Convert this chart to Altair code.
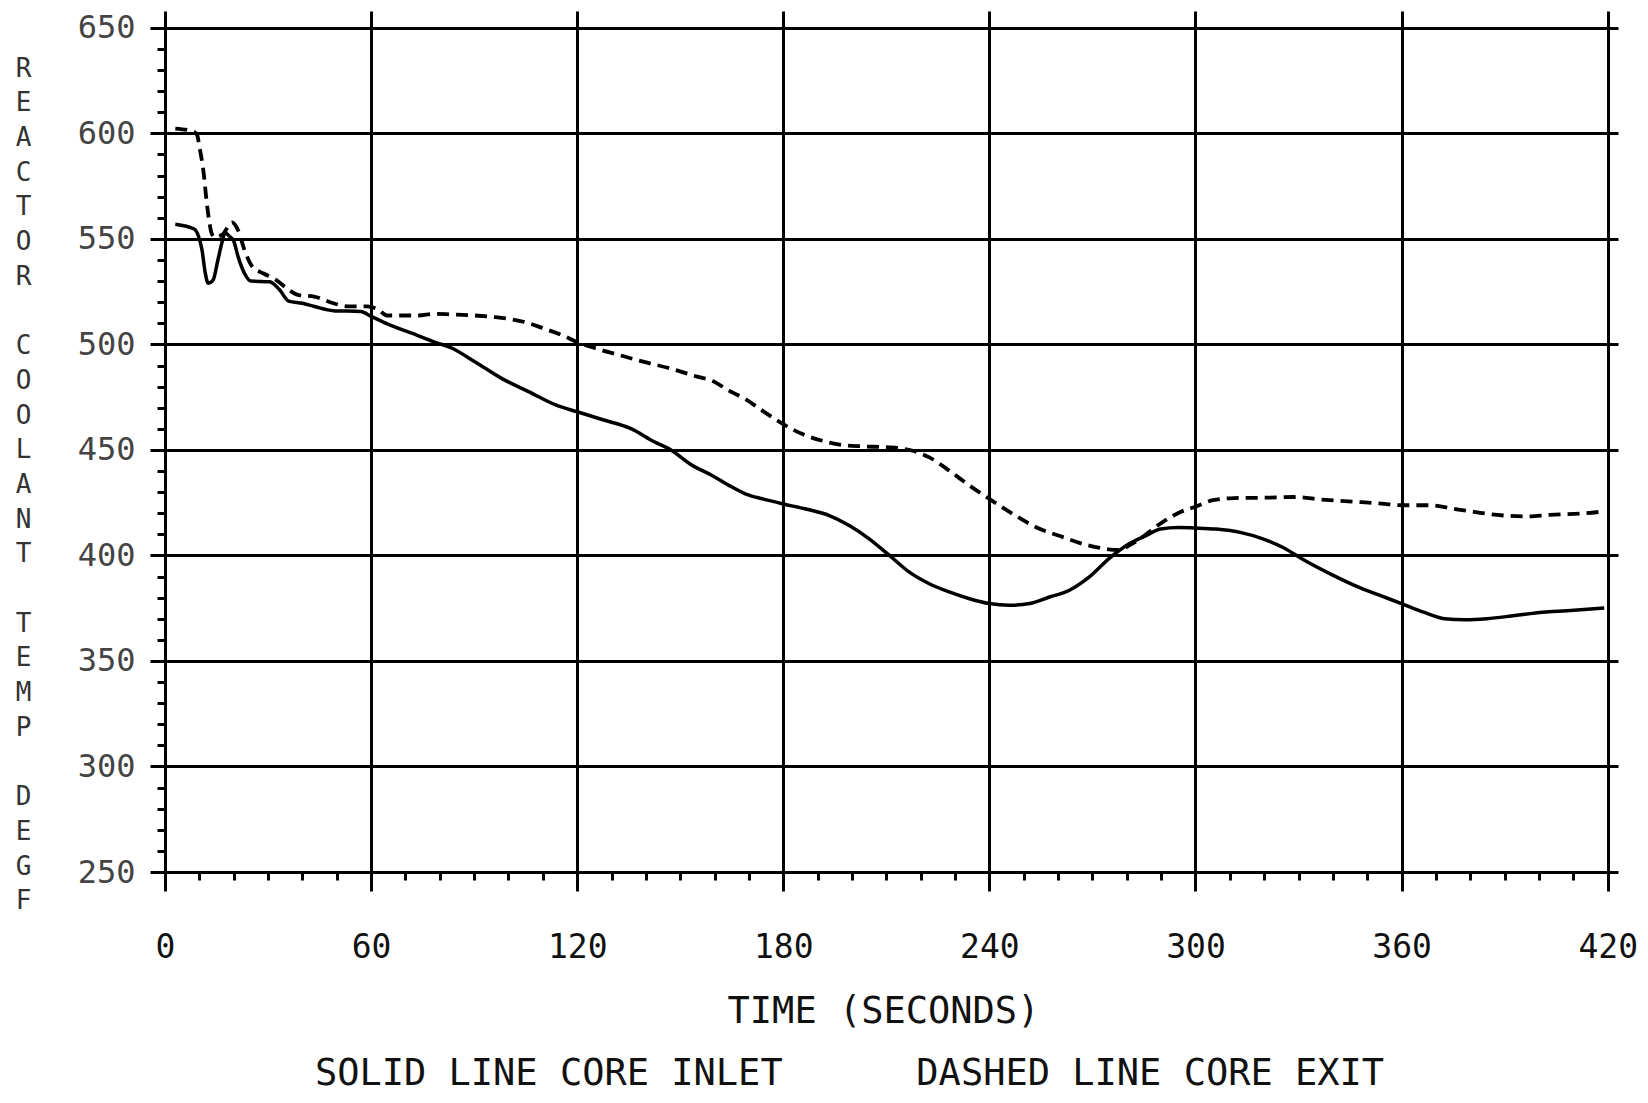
import altair as alt
import pandas as pd

# Core inlet (solid line): time in seconds, temperature in deg F
inlet_time = [3, 8.5, 9.8, 10.8, 11.7, 12.6, 14, 15.4, 16.7, 17.5, 18.6, 20, 21.3, 23.2, 25,
              30.5, 33.3, 36, 40, 43.5, 49, 57, 60, 64.7, 73.6, 78.5, 83.4, 90.3, 98.1, 106,
              113.9, 120, 127.7, 135.5, 142.4, 147.3, 153.2, 159.4, 164.3, 169.1, 174, 180,
              186.6, 193.4, 199.2, 205, 210.9, 216.7, 222.5, 228.3, 234.2, 240, 245.8, 251.7,
              257.5, 263.3, 269.1, 274.9, 280.7, 285.6, 289.8, 295, 300, 306, 313.3, 319.4,
              325.5, 331.7, 339.8, 348, 354.1, 360, 366.4, 372.5, 378.6, 384.8, 392.9, 401.1,
              408.2, 419]
inlet_temp = [557, 554.7, 551, 544.5, 534, 529, 530.5, 540, 549, 553, 551.5, 549, 541.5, 533.5, 530,
              529.7, 526, 520.5, 519.5, 518, 516, 515.6, 513.3, 509.7, 504.2, 501.1, 498.3, 491.7,
              483.8, 477.5, 471.2, 468.1, 464.2, 460.2, 453.9, 450, 443, 437.8, 433.1, 429.1,
              426.8, 424.4, 422, 418.9, 414.2, 407.9, 400, 392.1, 386.6, 382.7, 379.5, 377.2,
              376.4, 377.2, 380.3, 383.5, 389.8, 398.6, 405.5, 409.4, 412.5, 413.2, 413, 412.5,
              410.8, 408, 403.8, 397.7, 390.8, 384.6, 380.8, 377.2, 373.1, 370, 369.5, 370,
              371.5, 373.1, 373.8, 375.1]

# Core exit (dashed line)
exit_time = [3, 8.5, 9.4, 10.1, 11.2, 12.1, 13, 13.5, 14.4, 16.7, 19.5, 21.3, 23.2, 25.5, 28.7,
             32.4, 36.1, 38.9, 43.4, 49, 53.6, 58.8, 61.8, 64.7, 73.6, 78.5, 83.4, 90.3, 96.2,
             100.1, 105, 110, 115.9, 120, 125.7, 132.6, 139.5, 147.3, 155.2, 159.4, 164.3,
             169.1, 174, 180, 185.6, 191.5, 197.3, 203.1, 210.9, 217.7, 222.5, 228.3, 234.2,
             240, 246.8, 253.6, 261.4, 268.2, 274, 277.4, 282, 290.8, 295.9, 300, 305.1, 311.2,
             321.4, 328.6, 336.8, 347, 354.1, 360, 367.4, 377.6, 387.8, 396, 403.1, 413.4, 418.5]
exit_temp = [602.3, 600.8, 599, 593, 582, 568, 557, 553, 550.8, 552, 557.8, 554, 544.5, 536.7, 533.6,
             530.5, 525.8, 523.4, 522.7, 519.5, 518, 518, 516.8, 513.7, 513.7, 514.5, 514.2, 513.7,
             512.9, 512.1, 510.5, 507.7, 504.2, 501.1, 498, 494.8, 491.7, 488.5, 484.6, 482.7,
             478, 474, 468.5, 462.2, 457.5, 454.3, 452.3, 451.7, 451.2, 449.6, 446.5, 440.2,
             433.1, 426.8, 419.7, 413.4, 408.7, 405, 403.1, 402.6, 406, 416.2, 420.8, 423.1,
             426.2, 427.2, 427.4, 427.7, 426.5, 425.4, 424.6, 423.8, 423.8, 421.5, 419.2, 418.5,
             419.2, 420, 420.8]

x_ticks = list(range(0, 421, 10))
y_ticks = list(range(250, 651, 10))

BLANK = "\u2800"
y_title = list("REACTOR") + [BLANK] + list("COOLANT") + [BLANK] + list("TEMP") + [BLANK] + list("DEGF")
x_title = "TIME (SECONDS)"
legend_text = "SOLID LINE CORE INLET" + "\u00a0" * 6 + "DASHED LINE CORE EXIT"

FONT = "DejaVu Sans Mono"

inlet = pd.DataFrame({"t": inlet_time, "v": inlet_temp})
exit_ = pd.DataFrame({"t": exit_time, "v": exit_temp})

x_enc = alt.X(
    "t:Q",
    scale=alt.Scale(domain=[0, 423], nice=False, zero=False),
    axis=alt.Axis(
        values=x_ticks,
        tickCount=100,
        labelExpr="datum.value % 60 === 0 ? datum.label : ''",
        format="d",
        tickSize={"condition": {"test": "datum.value % 60 === 0", "value": 19}, "value": 8},
        tickWidth=3,
        tickColor="black",
        grid=True,
        gridColor="black",
        gridWidth=3,
        gridOpacity={"condition": {"test": "datum.value % 60 === 0 && datum.value > 0", "value": 1}, "value": 0},
        domainColor="black",
        domainWidth=3,
        labelFont=FONT,
        labelFontSize=33,
        labelColor="#111",
        labelPadding=40,
        labelFlush=False,
        labelOverlap=False,
        title=x_title,
        titleFont=FONT,
        titleFontSize=37,
        titleFontWeight="normal",
        titleColor="#111",
        titleX=718,
        titleY=139,
        titleAlign="center",
        titleBaseline="middle",
        titleAnchor="start",
    ),
)

y_enc = alt.Y(
    "v:Q",
    scale=alt.Scale(domain=[250, 658], nice=False, zero=False),
    axis=alt.Axis(
        values=y_ticks,
        tickCount=100,
        labelExpr="datum.value % 50 === 0 ? datum.label : ''",
        format="d",
        tickSize={"condition": {"test": "datum.value % 50 === 0", "value": 15}, "value": 8},
        tickWidth=3,
        tickColor="black",
        grid=True,
        gridColor="black",
        gridWidth=3,
        gridOpacity={"condition": {"test": "datum.value % 50 === 0 && datum.value > 250", "value": 1}, "value": 0},
        domainColor="black",
        domainWidth=3,
        labelFont=FONT,
        labelFontSize=32,
        labelColor="#444",
        labelPadding=15,
        labelFlush=False,
        labelOverlap=False,
        title=y_title,
        titleFont=FONT,
        titleFontSize=26,
        titleFontWeight="normal",
        titleColor="#333",
        titleAngle=0,
        titleLineHeight=34.7,
        titleX=-142,
        titleY=44,
        titleAlign="center",
        titleBaseline="top",
        titleAnchor="start",
    ),
)

solid = alt.Chart(inlet).mark_line(color="black", strokeWidth=3.5, interpolate="monotone").encode(
    x=x_enc, y=y_enc, order="t:Q"
)
dashed = alt.Chart(exit_).mark_line(
    color="black", strokeWidth=3.8, strokeDash=[12, 7], interpolate="monotone"
).encode(x="t:Q", y="v:Q", order="t:Q")

chart = alt.layer(solid, dashed).properties(
    width=1453,
    height=861,
    autosize=alt.AutoSizeParams(type="none"),
    padding={"left": 157, "top": 3, "right": 20, "bottom": 222},
    background="white",
    title=alt.TitleParams(
        text=legend_text,
        orient="bottom",
        anchor="middle",
        dx=-42,
        offset=27,
        font=FONT,
        fontSize=37,
        fontWeight="normal",
        color="#111",
    ),
).configure_view(stroke=None)

chart.save("out.html", embed_options={"renderer": "svg", "actions": False})
